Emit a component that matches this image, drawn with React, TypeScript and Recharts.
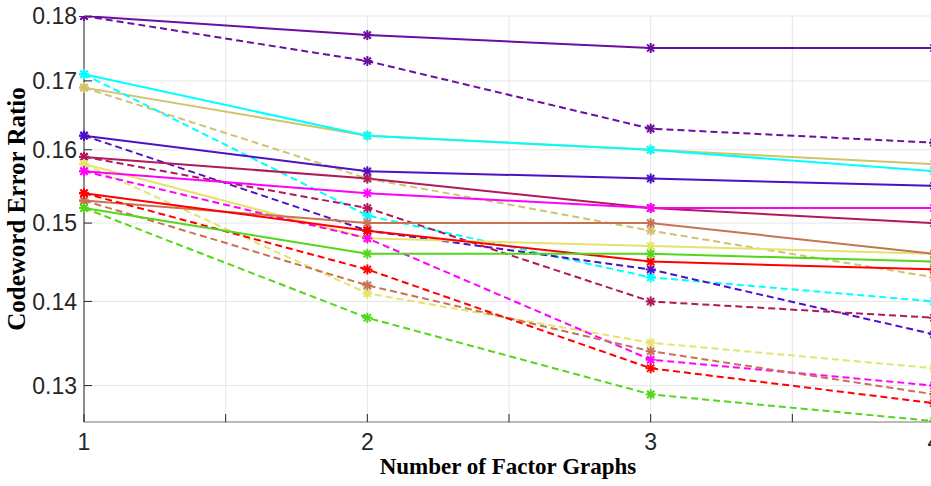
import React from "react";
import { LineChart, Line, XAxis, YAxis, CartesianGrid } from "recharts";

// number of factor graphs
const factorGraphs = [1, 2, 3, 4];
const xTicks = [1, 1.5, 2, 2.5, 3, 3.5, 4];
const yTicks = [0.13, 0.14, 0.15, 0.16, 0.17, 0.18];

// codeword error ratio, one array per curve
const purpleSolid = [0.18, 0.177, 0.175, 0.175];
const purpleDashed = [0.18, 0.173, 0.163, 0.161];
const cyanSolid = [0.171, 0.162, 0.16, 0.157];
const cyanDashed = [0.171, 0.151, 0.143, 0.14];
const khakiSolid = [0.169, 0.162, 0.16, 0.158];
const khakiDashed = [0.169, 0.156, 0.149, 0.143];
const violetSolid = [0.162, 0.157, 0.156, 0.155];
const violetDashed = [0.162, 0.149, 0.144, 0.136];
const crimsonSolid = [0.159, 0.156, 0.152, 0.15];
const crimsonDashed = [0.159, 0.152, 0.14, 0.138];
const yellowSolid = [0.158, 0.148, 0.147, 0.146];
const yellowDashed = [0.158, 0.141, 0.135, 0.132];
const magentaSolid = [0.157, 0.154, 0.152, 0.152];
const magentaDashed = [0.157, 0.148, 0.133, 0.13];
const redSolid = [0.154, 0.149, 0.145, 0.144];
const redDashed = [0.154, 0.144, 0.132, 0.128];
const siennaSolid = [0.153, 0.15, 0.15, 0.146];
const siennaDashed = [0.153, 0.142, 0.134, 0.129];
const greenSolid = [0.152, 0.146, 0.146, 0.145];
const greenDashed = [0.152, 0.138, 0.129, 0.126];

const series = [
  { key: "purpleS", color: "#6a0fa0", dashed: false, values: purpleSolid },
  { key: "purpleD", color: "#6a0fa0", dashed: true, values: purpleDashed },
  { key: "khakiS", color: "#cfc46c", dashed: false, values: khakiSolid },
  { key: "khakiD", color: "#cfc46c", dashed: true, values: khakiDashed },
  { key: "cyanS", color: "#00ffff", dashed: false, values: cyanSolid },
  { key: "cyanD", color: "#00ffff", dashed: true, values: cyanDashed },
  { key: "violetS", color: "#4d10c4", dashed: false, values: violetSolid },
  { key: "violetD", color: "#4d10c4", dashed: true, values: violetDashed },
  { key: "crimsonS", color: "#b01a5c", dashed: false, values: crimsonSolid },
  { key: "crimsonD", color: "#b01a5c", dashed: true, values: crimsonDashed },
  { key: "yellowS", color: "#e4e46c", dashed: false, values: yellowSolid },
  { key: "yellowD", color: "#e4e46c", dashed: true, values: yellowDashed },
  { key: "magentaS", color: "#ff00ff", dashed: false, values: magentaSolid },
  { key: "magentaD", color: "#ff00ff", dashed: true, values: magentaDashed },
  { key: "siennaS", color: "#c87252", dashed: false, values: siennaSolid },
  { key: "siennaD", color: "#c87252", dashed: true, values: siennaDashed },
  { key: "redS", color: "#ff0000", dashed: false, values: redSolid },
  { key: "redD", color: "#ff0000", dashed: true, values: redDashed },
  { key: "greenS", color: "#52d71a", dashed: false, values: greenSolid },
  { key: "greenD", color: "#52d71a", dashed: true, values: greenDashed },
];

const data = factorGraphs.map((x, i) => {
  const row: Record<string, number> = { x };
  series.forEach((s) => (row[s.key] = s.values[i]));
  return row;
});

const Star = (props: any) => {
  const { cx, cy, stroke } = props;
  if (cx == null || cy == null) return null;
  const r = 5;
  const d = r * 0.72;
  return (
    <g stroke={stroke} strokeWidth={2}>
      <line x1={cx - r} y1={cy} x2={cx + r} y2={cy} />
      <line x1={cx} y1={cy - r} x2={cx} y2={cy + r} />
      <line x1={cx - d} y1={cy - d} x2={cx + d} y2={cy + d} />
      <line x1={cx - d} y1={cy + d} x2={cx + d} y2={cy - d} />
    </g>
  );
};

const YLabel = (props: any) => {
  const vb = props.viewBox;
  const cx = 25;
  const cy = vb.y + vb.height / 2 - 10;
  return (
    <text x={cx} y={cy} transform={`rotate(-90 ${cx} ${cy})`} textAnchor="middle"
      fontFamily="'Liberation Serif', serif" fontWeight="bold" fontSize={25} fill="#000">
      Codeword Error Ratio
    </text>
  );
};

const XLabel = (props: any) => {
  const vb = props.viewBox;
  return (
    <text x={508} y={vb.y + 52} textAnchor="middle"
      fontFamily="'Liberation Serif', serif" fontWeight="bold" fontSize={23} fill="#000">
      Number of Factor Graphs
    </text>
  );
};

const tickStyle = { fontFamily: "'Liberation Sans', Arial, sans-serif", fontSize: 23, fill: "#262626" };

export default function App() {
  return (
    <div style={{ position: "fixed", left: 0, top: 0, width: 931, height: 486, overflow: "hidden", background: "#fff" }}>
      <LineChart width={954} height={486} data={data} margin={{ top: 16, right: 20, left: 0, bottom: 0 }}>
        <CartesianGrid stroke="#e6e6e6" />
        <XAxis dataKey="x" type="number" domain={[1, 4]} ticks={xTicks} height={64}
          tickFormatter={(v: number) => (Number.isInteger(v) ? String(v) : "")}
          tick={tickStyle} tickSize={-8} tickMargin={20}
          axisLine={{ stroke: "#808080" }} tickLine={{ stroke: "#262626" }}
          label={<XLabel />} />
        <XAxis xAxisId="top" orientation="top" type="number" domain={[1, 4]} ticks={xTicks} height={0}
          tick={false} tickSize={-8} axisLine={{ stroke: "#808080" }} tickLine={{ stroke: "#262626" }} />
        <YAxis type="number" scale="log" domain={[0.1259, 0.18]} allowDataOverflow ticks={yTicks} width={84}
          tickFormatter={(v: number) => v.toFixed(2)}
          tick={tickStyle} tickSize={-8} tickMargin={15}
          axisLine={{ stroke: "#262626" }} tickLine={{ stroke: "#262626" }}
          label={<YLabel />} />
        {series.map((s) => (
          <Line key={s.key} dataKey={s.key} type="linear" stroke={s.color} strokeWidth={2}
            strokeDasharray={s.dashed ? "7 4" : undefined} dot={<Star />} activeDot={false}
            isAnimationActive={false} />
        ))}
      </LineChart>
    </div>
  );
}
